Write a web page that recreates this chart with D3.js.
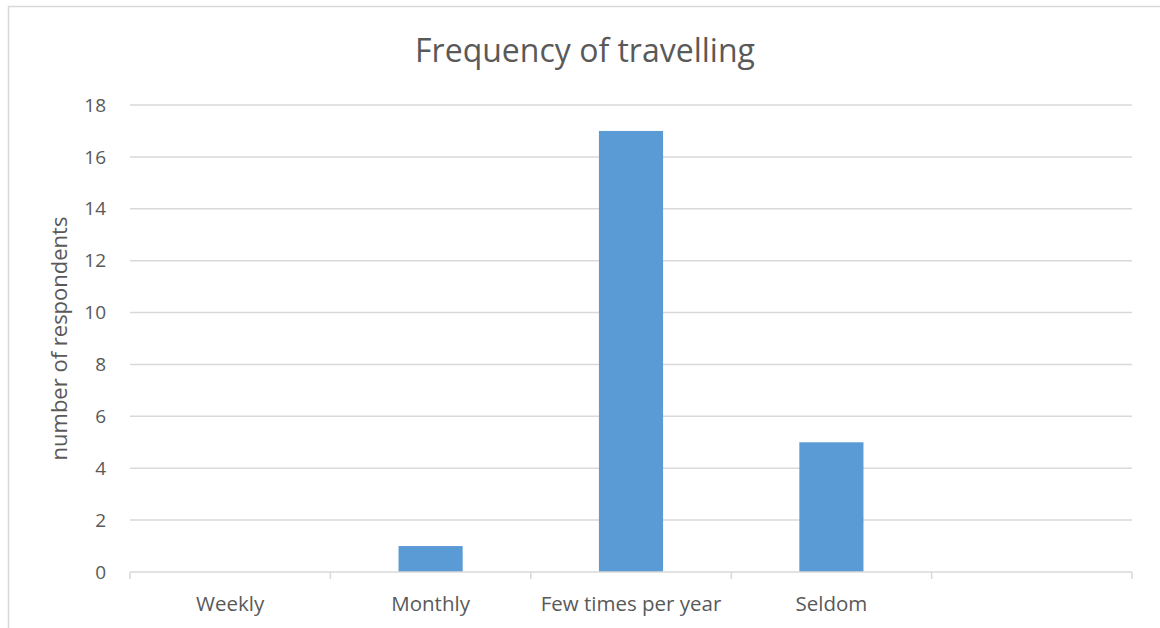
<!DOCTYPE html>
<html>
<head>
    <title>Frequency of travelling</title>
    <script src="https://d3js.org/d3.v7.min.js"></script>
    <style>
        body { margin: 0; background: #fff; }
        svg { font-family: "Open Sans", sans-serif; }
        .grid line { stroke: #D9D9D9; stroke-width: 1.5; }
        .tick-label { fill: #595959; }
    </style>
</head>
<body>
    <div id="chart"></div>
    <script>
        const categories = ['Weekly', 'Monthly', 'Few times per year', 'Seldom', ''];
        const counts = [0, 1, 17, 5, null];
        const yTicks = [0, 2, 4, 6, 8, 10, 12, 14, 16, 18];

        const W = 1160, H = 628;
        const margin = { top: 105, right: 28, bottom: 56, left: 130 };
        const width = W - margin.left - margin.right,
              height = H - margin.top - margin.bottom;

        const root = d3.select('#chart').append('svg')
            .attr('width', W)
            .attr('height', H);

        // outer chart border (runs off the right/bottom of the picture)
        root.append('rect')
            .attr('x', 8.5).attr('y', 6.5)
            .attr('width', 1300).attr('height', 800)
            .attr('fill', 'none')
            .attr('stroke', '#D9D9D9')
            .attr('stroke-width', 1.5);

        root.append('text')
            .attr('x', 585)
            .attr('y', 62)
            .attr('text-anchor', 'middle')
            .style('font-size', '32px')
            .style('fill', '#595959')
            .text('Frequency of travelling');

        const svg = root.append('g')
            .attr('transform', `translate(${margin.left},${margin.top})`);

        const x = d3.scaleBand()
            .domain(d3.range(categories.length))
            .range([0, width])
            .padding(0);

        const y = d3.scaleLinear()
            .domain([0, 18])
            .range([height, 0]);

        // gridlines
        svg.append('g')
            .attr('class', 'grid')
            .selectAll('line')
            .data(yTicks.filter(t => t > 0))
            .join('line')
            .attr('x1', 0).attr('x2', width)
            .attr('y1', d => y(d)).attr('y2', d => y(d));

        // y labels
        svg.append('g')
            .selectAll('text')
            .data(yTicks)
            .join('text')
            .attr('class', 'tick-label')
            .attr('x', -24)
            .attr('y', d => y(d))
            .attr('dy', '0.35em')
            .attr('text-anchor', 'end')
            .style('font-size', '19px')
            .text(d => d);

        // bars
        const barW = x.bandwidth() * 0.32;
        svg.selectAll('.bar')
            .data(counts.map((v, i) => ({ i, v })).filter(d => d.v))
            .join('rect')
            .attr('class', 'bar')
            .attr('x', d => x(d.i) + (x.bandwidth() - barW) / 2)
            .attr('width', barW)
            .attr('y', d => y(d.v))
            .attr('height', d => y(0) - y(d.v))
            .attr('fill', '#5B9BD5');

        // x axis line and ticks
        const axis = svg.append('g').attr('transform', `translate(0,${height})`);
        axis.append('line')
            .attr('x1', 0).attr('x2', width)
            .attr('stroke', '#D9D9D9').attr('stroke-width', 1.5);
        axis.selectAll('.tk')
            .data(d3.range(categories.length + 1))
            .join('line')
            .attr('class', 'tk')
            .attr('x1', i => i < categories.length ? x(i) : width)
            .attr('x2', i => i < categories.length ? x(i) : width)
            .attr('y1', 0).attr('y2', 7)
            .attr('stroke', '#D9D9D9').attr('stroke-width', 1.5);
        axis.selectAll('.cat')
            .data(categories)
            .join('text')
            .attr('class', 'tick-label')
            .attr('x', (d, i) => x(i) + x.bandwidth() / 2)
            .attr('y', 39)
            .attr('text-anchor', 'middle')
            .style('font-size', '20.5px')
            .text(d => d);

        // y axis title
        root.append('text')
            .attr('transform', `translate(67,${(y(9) + margin.top)}) rotate(-90)`)
            .attr('text-anchor', 'middle')
            .style('font-size', '22px')
            .style('fill', '#595959')
            .text('number of respondents');
    </script>
</body>
</html>
